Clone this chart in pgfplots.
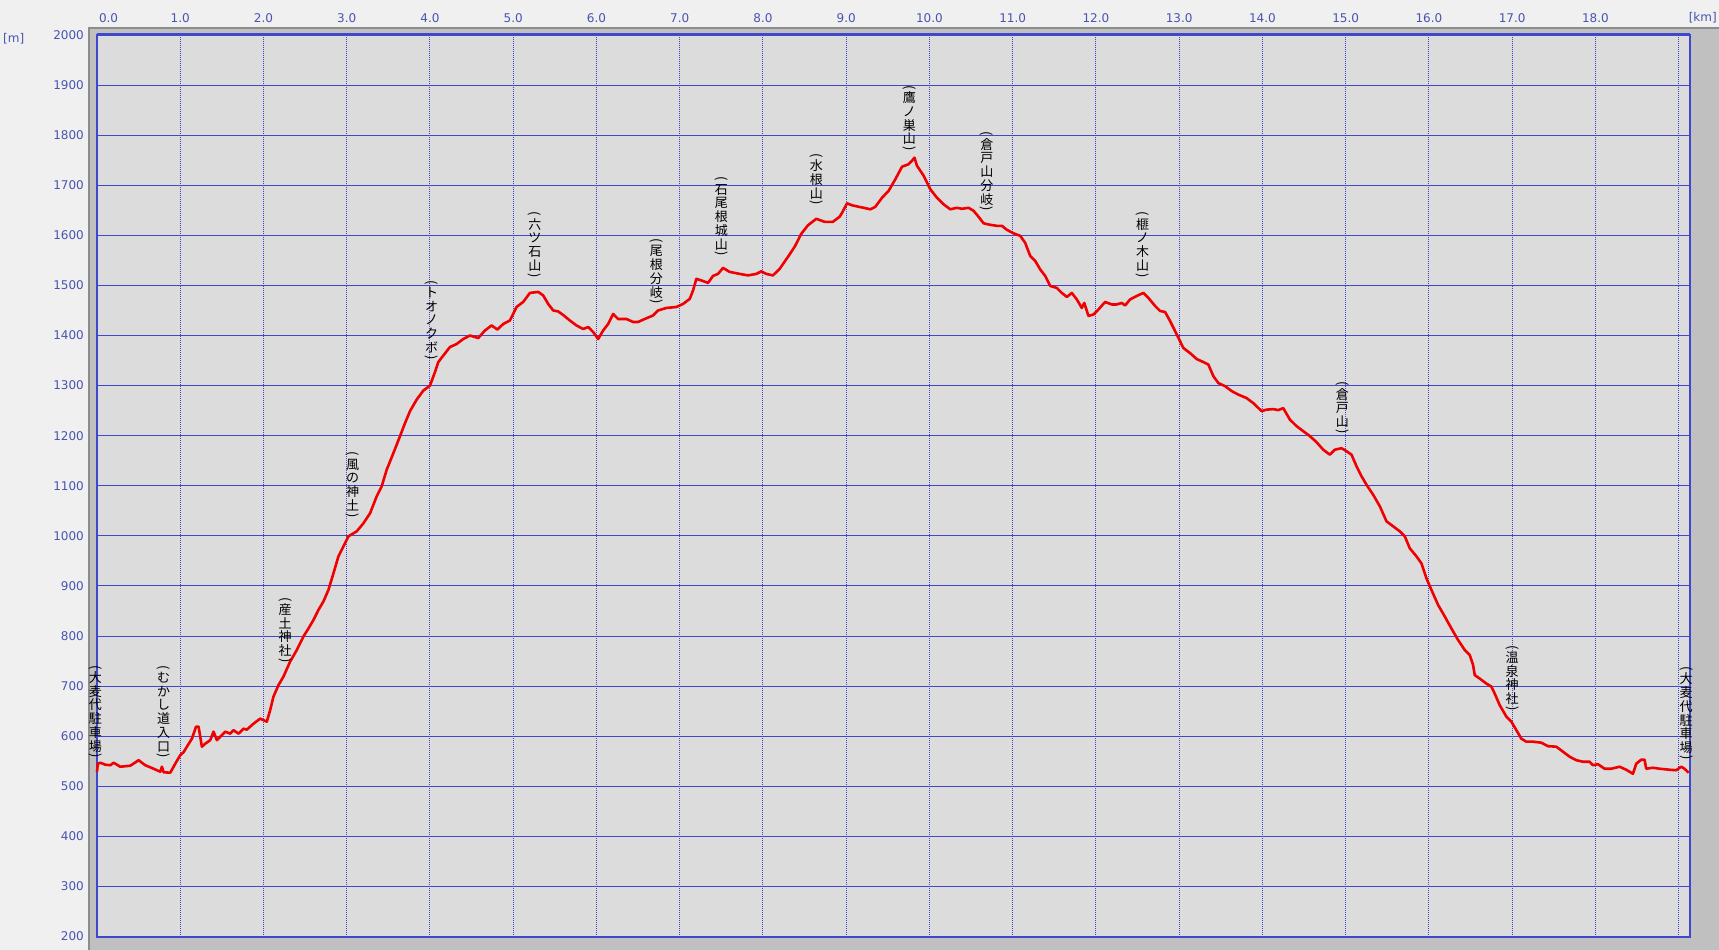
\documentclass[border=0pt]{standalone}
\usepackage{pgfplots}
\pgfplotsset{compat=1.18}
\usepackage{fontspec}
\setmainfont{DejaVu Sans}
\newfontfamily\cjk{Noto Sans CJK JP}
\usepackage{graphicx}

\definecolor{gridblue}{RGB}{63,72,204}
\definecolor{lblblue}{RGB}{72,84,176}
\definecolor{plotbg}{RGB}{220,220,220}
\definecolor{panel}{RGB}{192,192,192}
\definecolor{paneldark}{RGB}{140,140,140}
\definecolor{outbg}{RGB}{240,240,240}
\definecolor{trackred}{RGB}{240,0,0}

\newcommand\vrow[1]{\hbox to 14pt{\hss\vrule height 11pt depth 2.75pt width 0pt #1\hss}}
\newcommand\vpo{\hbox to 14pt{\hss\rotatebox[origin=c]{-90}{(}\hss}}
\newcommand\vpc{\hbox to 14pt{\hss\rotatebox[origin=c]{-90}{)}\hss}}
\def\vlist#1{\ifx#1\relax\else\vrow{#1}\expandafter\vlist\fi}
\newcommand\vlabel[1]{\vbox{\offinterlineskip\vpo\vlist#1\relax\vpc}}

\pgfplotstableread{
km m
0.00 529
0.01 545
0.04 547
0.10 543
0.16 542
0.20 547
0.28 539
0.40 541
0.50 552
0.58 542
0.68 535
0.76 529
0.78 539
0.80 528
0.88 527
0.94 545
1.00 562
1.04 568
1.08 579
1.14 595
1.19 619
1.22 619
1.26 579
1.30 585
1.36 592
1.40 609
1.44 592
1.50 602
1.54 609
1.60 605
1.64 612
1.70 605
1.76 615
1.80 613
1.88 625
1.96 635
2.04 629
2.08 652
2.12 679
2.18 702
2.24 719
2.32 749
2.40 772
2.48 799
2.54 815
2.60 832
2.66 852
2.72 869
2.78 892
2.84 925
2.90 959
2.96 979
3.02 999
3.08 1005
3.12 1009
3.20 1025
3.28 1045
3.36 1079
3.42 1099
3.48 1132
3.56 1165
3.64 1199
3.70 1225
3.76 1249
3.84 1272
3.92 1290
4.00 1300
4.06 1327
4.10 1347
4.16 1360
4.24 1377
4.32 1383
4.40 1393
4.48 1400
4.58 1395
4.66 1410
4.74 1420
4.81 1412
4.88 1423
4.96 1430
5.04 1457
5.12 1467
5.20 1485
5.30 1487
5.36 1480
5.42 1463
5.48 1450
5.54 1448
5.60 1441
5.68 1430
5.76 1420
5.84 1413
5.90 1417
5.96 1407
6.02 1393
6.08 1410
6.14 1423
6.20 1443
6.26 1433
6.36 1433
6.44 1427
6.50 1427
6.58 1433
6.68 1440
6.74 1450
6.84 1455
6.96 1457
7.04 1463
7.12 1473
7.16 1490
7.20 1513
7.26 1510
7.34 1505
7.40 1519
7.46 1523
7.52 1535
7.60 1527
7.72 1523
7.82 1520
7.92 1523
7.98 1528
8.04 1523
8.12 1520
8.20 1533
8.30 1557
8.38 1577
8.46 1603
8.54 1620
8.64 1633
8.74 1627
8.84 1627
8.92 1637
8.95 1645
9.01 1664
9.07 1660
9.15 1657
9.21 1655
9.29 1652
9.35 1657
9.43 1675
9.51 1689
9.59 1712
9.67 1737
9.75 1742
9.79 1749
9.82 1755
9.85 1739
9.93 1719
10.01 1692
10.09 1675
10.17 1662
10.25 1652
10.33 1655
10.39 1653
10.47 1655
10.53 1649
10.59 1637
10.65 1624
10.73 1621
10.81 1619
10.87 1619
10.93 1611
11.01 1604
11.09 1599
11.15 1585
11.21 1559
11.27 1549
11.33 1532
11.39 1519
11.45 1499
11.53 1495
11.59 1485
11.65 1477
11.71 1485
11.77 1472
11.83 1455
11.86 1465
11.91 1439
11.97 1442
12.03 1452
12.11 1467
12.19 1462
12.25 1462
12.31 1465
12.35 1460
12.41 1472
12.49 1479
12.57 1485
12.63 1475
12.71 1459
12.77 1449
12.83 1447
12.89 1429
12.95 1409
13.00 1392
13.05 1375
13.13 1365
13.21 1353
13.29 1347
13.35 1342
13.41 1319
13.47 1305
13.55 1299
13.63 1289
13.71 1282
13.81 1275
13.89 1265
13.99 1249
14.05 1252
14.13 1253
14.19 1251
14.25 1255
14.33 1232
14.41 1219
14.49 1209
14.57 1199
14.65 1187
14.73 1172
14.81 1162
14.87 1172
14.95 1175
15.01 1169
15.07 1162
15.13 1139
15.19 1119
15.25 1102
15.33 1082
15.41 1059
15.49 1029
15.57 1019
15.65 1009
15.71 999
15.77 975
15.85 959
15.91 945
15.97 915
16.03 892
16.11 862
16.19 839
16.27 815
16.35 792
16.43 772
16.49 762
16.53 742
16.55 722
16.61 715
16.69 705
16.75 699
16.79 685
16.85 662
16.93 639
16.99 629
17.05 612
17.11 595
17.17 589
17.25 589
17.35 587
17.43 580
17.53 579
17.61 569
17.69 559
17.77 552
17.85 549
17.93 549
17.97 542
18.03 544
18.11 535
18.19 535
18.29 539
18.37 533
18.45 525
18.49 545
18.55 553
18.59 553
18.61 535
18.69 537
18.77 535
18.89 533
18.97 532
19.03 539
19.07 535
19.12 527
}\track

\begin{document}
\begin{tikzpicture}
\useasboundingbox (0pt,0pt) rectangle (1719pt,-950pt);
\fill[outbg] (0pt,0pt) rectangle (1719pt,-950pt);
\fill[panel] (88pt,-27pt) rectangle (1719pt,-950pt);
\draw[paneldark, line width=2pt] (89pt,-950pt) -- (89pt,-28pt) -- (1719pt,-28pt);
\node[anchor=west, inner sep=0pt, text=lblblue, font=\fontsize{12}{14}\selectfont] at (3pt,-39pt) {[m]};
\node[anchor=base east, inner sep=0pt, text=lblblue, font=\fontsize{12}{14}\selectfont] at (1717pt,-22pt) {[km]};
\begin{axis}[
  at={(97pt,-936.5pt)}, anchor=south west,
  scale only axis, width=1592.5pt, height=901.5pt,
  xmin=0, xmax=19.13, ymin=200, ymax=2000,
  axis background/.style={fill=plotbg},
  clip=false,
  xtick={0,1,...,19},
  xticklabels={{\makebox[0pt][l]{\hspace{2pt}0.0}},1.0,2.0,3.0,4.0,5.0,6.0,7.0,8.0,9.0,10.0,11.0,12.0,13.0,14.0,15.0,16.0,17.0,18.0,{}},
  ytick={200,300,...,2000},
  xticklabel pos=upper,
  major tick length=0pt,
  tick style={draw=none},
  /pgf/number format/assume math mode=true,
  /pgf/number format/1000 sep={},
  ticklabel style={text=lblblue, font=\fontsize{12}{14}\selectfont, inner sep=0pt},
  xticklabel style={anchor=base, yshift=12pt},
  yticklabel style={anchor=east, xshift=-13pt},
  grid=major,
  x grid style={gridblue, line width=1pt, dash pattern=on 1pt off 1pt},
  y grid style={gridblue, line width=1pt},
  axis line style={gridblue, line width=2pt},
]
\addplot[trackred, line width=2.6pt, line join=round] table[x=km, y=m] {\track};
\begin{scope}[every node/.style={anchor=north, inner sep=0pt, text=black, font=\cjk\fontsize{13}{13.75}\selectfont}]
\node at (axis cs:-0.02,742) {\vlabel{大麦代駐車場}};
\node at (axis cs:0.80,742) {\vlabel{むかし道入口}};
\node at (axis cs:2.26,878) {\vlabel{産土神社}};
\node at (axis cs:3.07,1168) {\vlabel{風の神土}};
\node at (axis cs:4.02,1511) {\vlabel{トオノクボ}};
\node at (axis cs:5.26,1647) {\vlabel{六ツ石山}};
\node at (axis cs:6.72,1594) {\vlabel{尾根分岐}};
\node at (axis cs:7.50,1717) {\vlabel{石尾根城山}};
\node at (axis cs:8.64,1764) {\vlabel{水根山}};
\node at (axis cs:9.76,1900) {\vlabel{鷹ノ巣山}};
\node at (axis cs:10.69,1807) {\vlabel{倉戸山分岐}};
\node at (axis cs:12.56,1647) {\vlabel{榧ノ木山}};
\node at (axis cs:14.96,1308) {\vlabel{倉戸山}};
\node at (axis cs:17.00,782) {\vlabel{温泉神社}};
\node at (axis cs:19.09,739) {\vlabel{大麦代駐車場}};
\end{scope}
\end{axis}
\draw[gridblue, line width=3pt] (97pt,-35pt) -- (1689.5pt,-35pt);
\end{tikzpicture}
\end{document}
